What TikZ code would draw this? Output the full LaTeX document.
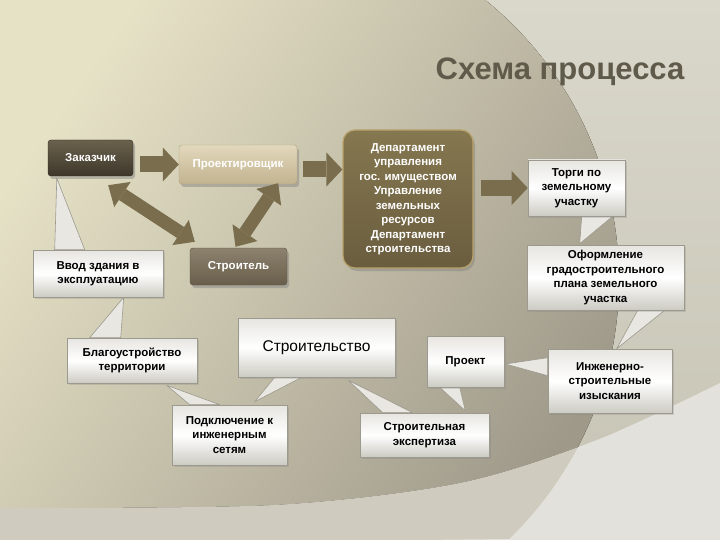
\documentclass[tikz,border=0pt]{standalone}
\usepackage{fontspec}
\setmainfont{Liberation Sans}
\usetikzlibrary{arrows.meta,positioning,shadows,backgrounds,calc}
\definecolor{arrowolive}{HTML}{7A6D4D}
\definecolor{titlegray}{HTML}{5F5A4A}
\definecolor{disclight}{HTML}{E6E2C6}
\definecolor{discdark}{HTML}{9F998A}
\definecolor{lowin}{HTML}{CFCBBE}
\definecolor{lowout}{HTML}{E2E1DB}
\definecolor{outtop}{HTML}{DAD8CB}
\definecolor{outbot}{HTML}{C6C3B4}
\definecolor{calltop}{HTML}{E6E5E0}
\definecolor{callbot}{HTML}{CCCBC3}
\definecolor{calledge}{HTML}{9C998E}
\definecolor{calltail}{HTML}{E8E7E2}
\definecolor{clienttop}{HTML}{6A614D}
\definecolor{clientbot}{HTML}{3E372A}
\definecolor{clientedge}{HTML}{2F2A20}
\definecolor{designtop}{HTML}{E2D8BD}
\definecolor{designbot}{HTML}{C2B38F}
\definecolor{designedge}{HTML}{B3A47F}
\definecolor{buildtop}{HTML}{8C826E}
\definecolor{buildbot}{HTML}{685E4B}
\definecolor{buildedge}{HTML}{5A513F}
\definecolor{officetop}{HTML}{85774F}
\definecolor{officebot}{HTML}{6A5D3F}
\definecolor{officeedge}{HTML}{B9A36A}
\tikzset{
  base/.style={font=\bfseries\fontsize{11.5}{14.5}\selectfont,align=center,inner sep=3pt},
  darkbox/.style={base,text=white,rounded corners=3pt,drop shadow={shadow xshift=2pt,shadow yshift=-3pt,opacity=0.45}},
  client/.style={darkbox,top color=clienttop,bottom color=clientbot,draw=clientedge},
  designer/.style={darkbox,top color=designtop,bottom color=designbot,draw=designedge},
  builder/.style={darkbox,top color=buildtop,bottom color=buildbot,draw=buildedge},
  office/.style={darkbox,rounded corners=12pt,top color=officetop,bottom color=officebot,draw=officeedge,line width=1.2pt},
  callout/.style={base,text=black,draw=calledge,line width=0.6pt,top color=calltop,bottom color=callbot,middle color=white,drop shadow={shadow xshift=1.5pt,shadow yshift=-2pt,opacity=0.25}},
  tail/.style={fill=calltail,draw=calledge,line width=0.6pt,line join=round},
  flow/.style={line width=16pt,draw=arrowolive,-{Triangle[length=16pt,width=34pt,line width=0pt]}},
  twoway/.style={line width=13pt,draw=arrowolive,{Triangle[length=17pt,width=30pt,line width=0pt]}-{Triangle[length=17pt,width=30pt,line width=0pt]}}
}
\begin{document}
\begin{tikzpicture}[x=1pt,y=-1pt]
\useasboundingbox (0,0) rectangle (720,540);
\begin{pgfonlayer}{background}
\fill[top color=outtop,bottom color=outbot] (0,0) rectangle (720,540);
\fill[lowout] plot[smooth] coordinates {(0,508) (275,505) (460,483) (597,440) (720,383)} -- (720,540) -- (0,540) -- cycle;
\begin{scope}
\clip plot[smooth] coordinates {(0,508) (275,505) (460,483) (597,440) (720,383)} -- (720,-5) -- (0,-5) -- cycle;
\fill[top color=disclight,bottom color=discdark,shading angle=55] (-5,-5) -- ($(259,280)+(-51.5:360)$) arc[start angle=-51.5,end angle=46,radius=360] -- (-5,545) -- cycle;
\end{scope}
\begin{scope}
\clip plot[smooth] coordinates {(0,508) (275,505) (460,483) (597,440) (720,383)} -- (720,545) -- (0,545) -- cycle;
\fill[lowin] (-5,-5) -- ($(259,280)+(-51.5:360)$) arc[start angle=-51.5,end angle=46,radius=360] -- (-5,545) -- cycle;
\end{scope}
\end{pgfonlayer}

\node[font=\bfseries\fontsize{31}{36}\selectfont,text=titlegray,anchor=base] (title) at (560,80) {Схема процесса};

\node[client,minimum width=85pt,minimum height=36pt] (zakaz) at (90.5,158) {Заказчик};
\node[designer,minimum width=118pt,minimum height=39pt] (proektirov) at (238,164.5) {Проектировщик};
\node[builder,minimum width=97pt,minimum height=37pt] (stroitel) at (238.5,266.5) {Строитель};
\node[office,minimum width=130pt,minimum height=138pt] (depart) at (408,199) {Департамент\\управления\\гос. имуществом\\Управление\\земельных\\ресурсов\\Департамент\\строительства};

\node[callout,minimum width=97pt,minimum height=56pt] (torgi) at (576.5,188) {Торги по\\земельному\\участку};
\node[callout,minimum width=157pt,minimum height=65pt] (oform) at (605.5,277.5) {Оформление\\градостроительного\\плана земельного\\участка};
\node[callout,minimum width=124pt,minimum height=64pt] (izysk) at (610,381) {Инженерно-\\строительные\\изыскания};
\node[callout,minimum width=77pt,minimum height=51pt] (proekt) at (465.5,361.5) {Проект};
\node[callout,minimum width=129pt,minimum height=44pt] (ekspert) at (424.5,435) {Строительная\\экспертиза};
\node[callout,minimum width=157pt,minimum height=59pt,font=\fontsize{15.5}{18}\selectfont] (stroitelstvo) at (316.5,347.5) {Строительство};
\node[callout,minimum width=115pt,minimum height=60pt] (podkl) at (229.5,435) {Подключение к\\инженерным\\сетям};
\node[callout,minimum width=130pt,minimum height=45pt] (blagoustr) at (132,360.5) {Благоустройство\\территории};
\node[callout,minimum width=130pt,minimum height=47pt] (vvod) at (98,273.5) {Ввод здания в\\эксплуатацию};

% callout tails
\begin{pgfonlayer}{background}
\filldraw[tail] ([xshift=22pt]vvod.north west) -- ([xshift=9pt,yshift=-2pt]zakaz.south west) -- ([xshift=52pt]vvod.north west) -- cycle;
\filldraw[tail] ([xshift=23pt]blagoustr.north west) -- ([xshift=91pt]vvod.south west) -- ([xshift=54pt]blagoustr.north west) -- cycle;
\filldraw[tail] ([xshift=18pt]podkl.north west) -- ([xshift=100pt,yshift=-2pt]blagoustr.south west) -- ([xshift=48pt]podkl.north west) -- cycle;
\filldraw[tail] ([xshift=37pt]stroitelstvo.south west) -- ([xshift=83pt,yshift=3pt]podkl.north west) -- ([xshift=64pt]stroitelstvo.south west) -- cycle;
\filldraw[tail] ([xshift=23pt]ekspert.north west) -- ([xshift=-47pt,yshift=-3pt]stroitelstvo.south east) -- ([xshift=53pt]ekspert.north west) -- cycle;
\filldraw[tail] ([xshift=13pt]proekt.south west) -- ([xshift=-24pt,yshift=2pt]ekspert.north east) -- ([xshift=33pt]proekt.south west) -- cycle;
\filldraw[tail] ([yshift=-9pt]izysk.north west) -- ([xshift=1pt,yshift=-2.5pt]proekt.east) -- ([yshift=-27pt]izysk.north west) -- cycle;
\filldraw[tail] ([xshift=111pt]oform.south west) -- ([xshift=69pt]izysk.north west) -- ([xshift=138pt]oform.south west) -- cycle;
\filldraw[tail] ([xshift=54pt]torgi.south west) -- ([xshift=53pt,yshift=1pt]oform.north west) -- ([xshift=85pt]torgi.south west) -- cycle;
\end{pgfonlayer}

\draw[flow] ($(zakaz.east |- proektirov.west)+(7,0)$) -- (proektirov.west);
\draw[flow] ($(proektirov.east)+(6,5)$) -- ($(proektirov.east -| depart.west)+(0,5)$);
\draw[flow] ($(depart.east |- torgi.west)+(7,0)$) -- (torgi.west);
\draw[twoway] ($(zakaz.south east)+(-25,9)$) -- ($(stroitel.north west)+(5,-6)$);
\draw[twoway] ($(proektirov.south east)+(-19,-1)$) -- ($(stroitel.north)+(-3,-1)$);
\end{tikzpicture}
\end{document}
